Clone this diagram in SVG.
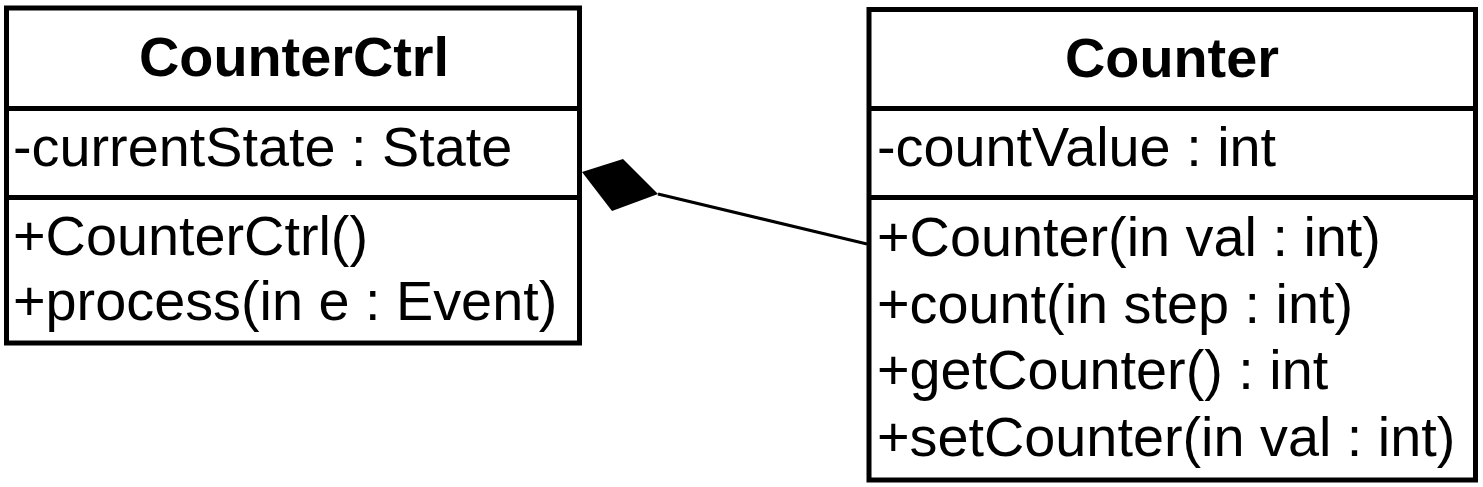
<svg xmlns="http://www.w3.org/2000/svg" width="1483" height="487" viewBox="0 0 1483 487">
<style>
.box{fill:#fff;stroke:#000;stroke-width:5}
.div{stroke:#000;stroke-width:5}
.t{font-family:"Liberation Sans",Arial,sans-serif;font-size:55.8px;fill:#000}
.h{font-weight:bold;text-anchor:middle}
.conn{stroke:#000;stroke-width:3;fill:none}
</style>
<rect width="1483" height="487" fill="#fff"/>
<g id="CounterCtrl">
<rect class="box" x="6.5" y="8" width="573" height="335"/>
<line class="div" x1="6.5" y1="108.5" x2="579.5" y2="108.5"/>
<line class="div" x1="6.5" y1="197.5" x2="579.5" y2="197.5"/>
<text class="t h" x="294" y="76">CounterCtrl</text>
<text class="t" x="13" y="166">-currentState : State</text>
<text class="t" x="13" y="255">+CounterCtrl()</text>
<text class="t" x="13" y="320">+process(in e : Event)</text>
</g>
<g id="Counter">
<rect class="box" x="869" y="9.5" width="606.5" height="470.5"/>
<line class="div" x1="869" y1="108.5" x2="1475.5" y2="108.5"/>
<line class="div" x1="869" y1="197.5" x2="1475.5" y2="197.5"/>
<text class="t h" x="1172" y="77">Counter</text>
<text class="t" x="877" y="166">-countValue : int</text>
<text class="t" x="877" y="256">+Counter(in val : int)</text>
<text class="t" x="877" y="323">+count(in step : int)</text>
<text class="t" x="877" y="389">+getCounter() : int</text>
<text class="t" x="877" y="456">+setCounter(in val : int)</text>
</g>
<g id="connectors">
<line class="conn" x1="658" y1="194" x2="867" y2="244"/>
<polygon points="582,172 623,159 658,194 612,211" fill="#000"/>
</g>
</svg>
